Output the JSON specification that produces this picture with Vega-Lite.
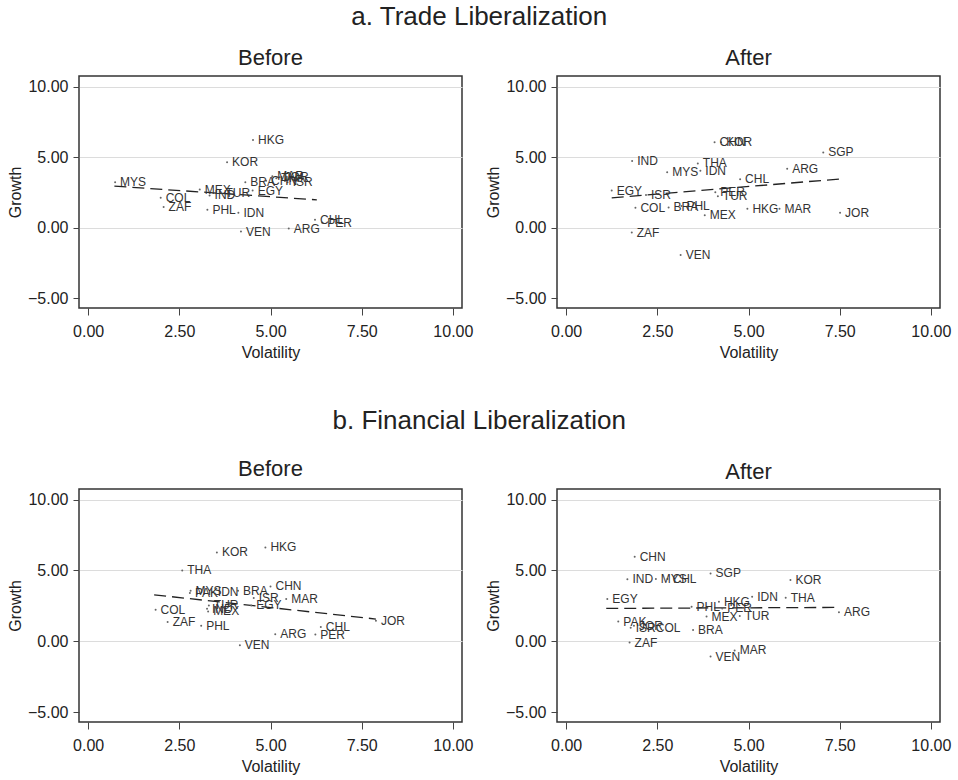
{
  "$schema": "https://vega.github.io/schema/vega-lite/v6.json",
  "padding": {"left": 6, "top": 4, "right": 5, "bottom": 2},
  "datasets": {
    "countries": [
      {"reform": "Trade", "period": "Before", "country": "HKG", "volatility": 4.52, "growth": 6.22},
      {"reform": "Trade", "period": "Before", "country": "KOR", "volatility": 3.81, "growth": 4.63},
      {"reform": "Trade", "period": "Before", "country": "MYS", "volatility": 0.74, "growth": 3.22},
      {"reform": "Trade", "period": "Before", "country": "COL", "volatility": 1.99, "growth": 2.11},
      {"reform": "Trade", "period": "Before", "country": "ZAF", "volatility": 2.07, "growth": 1.46},
      {"reform": "Trade", "period": "Before", "country": "MEX", "volatility": 3.06, "growth": 2.7},
      {"reform": "Trade", "period": "Before", "country": "IND", "volatility": 3.33, "growth": 2.28},
      {"reform": "Trade", "period": "Before", "country": "TUR", "volatility": 3.63, "growth": 2.46},
      {"reform": "Trade", "period": "Before", "country": "PHL", "volatility": 3.27, "growth": 1.27},
      {"reform": "Trade", "period": "Before", "country": "IDN", "volatility": 4.12, "growth": 1.06},
      {"reform": "Trade", "period": "Before", "country": "VEN", "volatility": 4.19, "growth": -0.28},
      {"reform": "Trade", "period": "Before", "country": "ARG", "volatility": 5.5, "growth": -0.07},
      {"reform": "Trade", "period": "Before", "country": "CHL", "volatility": 6.22, "growth": 0.56},
      {"reform": "Trade", "period": "Before", "country": "PER", "volatility": 6.42, "growth": 0.35},
      {"reform": "Trade", "period": "Before", "country": "BRA", "volatility": 4.31, "growth": 3.22},
      {"reform": "Trade", "period": "Before", "country": "EGY", "volatility": 4.51, "growth": 2.63},
      {"reform": "Trade", "period": "Before", "country": "CHN", "volatility": 4.88, "growth": 3.33},
      {"reform": "Trade", "period": "Before", "country": "MAR", "volatility": 5.05, "growth": 3.64},
      {"reform": "Trade", "period": "Before", "country": "THA", "volatility": 5.16, "growth": 3.5},
      {"reform": "Trade", "period": "Before", "country": "JOR", "volatility": 5.25, "growth": 3.57},
      {"reform": "Trade", "period": "Before", "country": "ISR", "volatility": 5.47, "growth": 3.22},
      {"reform": "Trade", "period": "After", "country": "CHN", "volatility": 4.07, "growth": 6.05},
      {"reform": "Trade", "period": "After", "country": "KOR", "volatility": 4.25, "growth": 6.05},
      {"reform": "Trade", "period": "After", "country": "SGP", "volatility": 7.05, "growth": 5.33},
      {"reform": "Trade", "period": "After", "country": "IND", "volatility": 1.81, "growth": 4.72},
      {"reform": "Trade", "period": "After", "country": "THA", "volatility": 3.61, "growth": 4.55},
      {"reform": "Trade", "period": "After", "country": "MYS", "volatility": 2.77, "growth": 3.92},
      {"reform": "Trade", "period": "After", "country": "IDN", "volatility": 3.68, "growth": 4.04},
      {"reform": "Trade", "period": "After", "country": "ARG", "volatility": 6.06, "growth": 4.18},
      {"reform": "Trade", "period": "After", "country": "CHL", "volatility": 4.77, "growth": 3.43},
      {"reform": "Trade", "period": "After", "country": "EGY", "volatility": 1.25, "growth": 2.63},
      {"reform": "Trade", "period": "After", "country": "ISR", "volatility": 2.19, "growth": 2.32},
      {"reform": "Trade", "period": "After", "country": "PER", "volatility": 4.09, "growth": 2.51},
      {"reform": "Trade", "period": "After", "country": "TUR", "volatility": 4.16, "growth": 2.23},
      {"reform": "Trade", "period": "After", "country": "COL", "volatility": 1.9, "growth": 1.41},
      {"reform": "Trade", "period": "After", "country": "BRA", "volatility": 2.81, "growth": 1.43},
      {"reform": "Trade", "period": "After", "country": "PHL", "volatility": 3.16, "growth": 1.53},
      {"reform": "Trade", "period": "After", "country": "MEX", "volatility": 3.8, "growth": 0.87},
      {"reform": "Trade", "period": "After", "country": "HKG", "volatility": 4.97, "growth": 1.34},
      {"reform": "Trade", "period": "After", "country": "MAR", "volatility": 5.85, "growth": 1.34},
      {"reform": "Trade", "period": "After", "country": "JOR", "volatility": 7.51, "growth": 1.06},
      {"reform": "Trade", "period": "After", "country": "ZAF", "volatility": 1.8, "growth": -0.35},
      {"reform": "Trade", "period": "After", "country": "VEN", "volatility": 3.14, "growth": -1.95},
      {"reform": "Financial", "period": "Before", "country": "KOR", "volatility": 3.53, "growth": 6.27},
      {"reform": "Financial", "period": "Before", "country": "HKG", "volatility": 4.86, "growth": 6.62},
      {"reform": "Financial", "period": "Before", "country": "THA", "volatility": 2.58, "growth": 5.0},
      {"reform": "Financial", "period": "Before", "country": "MYS", "volatility": 2.81, "growth": 3.57},
      {"reform": "Financial", "period": "Before", "country": "PAK", "volatility": 2.79, "growth": 3.4},
      {"reform": "Financial", "period": "Before", "country": "IDN", "volatility": 3.42, "growth": 3.47},
      {"reform": "Financial", "period": "Before", "country": "BRA", "volatility": 4.11, "growth": 3.57},
      {"reform": "Financial", "period": "Before", "country": "CHN", "volatility": 5.0, "growth": 3.87},
      {"reform": "Financial", "period": "Before", "country": "ISR", "volatility": 4.54, "growth": 3.05},
      {"reform": "Financial", "period": "Before", "country": "EGY", "volatility": 4.47, "growth": 2.53},
      {"reform": "Financial", "period": "Before", "country": "MAR", "volatility": 5.43, "growth": 2.98},
      {"reform": "Financial", "period": "Before", "country": "TUR", "volatility": 3.31, "growth": 2.53},
      {"reform": "Financial", "period": "Before", "country": "MEX", "volatility": 3.29, "growth": 2.11},
      {"reform": "Financial", "period": "Before", "country": "IND", "volatility": 3.26, "growth": 2.3},
      {"reform": "Financial", "period": "Before", "country": "COL", "volatility": 1.85, "growth": 2.23},
      {"reform": "Financial", "period": "Before", "country": "ZAF", "volatility": 2.18, "growth": 1.36},
      {"reform": "Financial", "period": "Before", "country": "PHL", "volatility": 3.1, "growth": 1.1},
      {"reform": "Financial", "period": "Before", "country": "ARG", "volatility": 5.13, "growth": 0.49},
      {"reform": "Financial", "period": "Before", "country": "CHL", "volatility": 6.38, "growth": 1.01},
      {"reform": "Financial", "period": "Before", "country": "PER", "volatility": 6.23, "growth": 0.47},
      {"reform": "Financial", "period": "Before", "country": "VEN", "volatility": 4.16, "growth": -0.28},
      {"reform": "Financial", "period": "Before", "country": "JOR", "volatility": 7.89, "growth": 1.45},
      {"reform": "Financial", "period": "After", "country": "CHN", "volatility": 1.88, "growth": 5.96},
      {"reform": "Financial", "period": "After", "country": "IND", "volatility": 1.68, "growth": 4.37},
      {"reform": "Financial", "period": "After", "country": "MYS", "volatility": 2.46, "growth": 4.39},
      {"reform": "Financial", "period": "After", "country": "CHL", "volatility": 2.78, "growth": 4.39},
      {"reform": "Financial", "period": "After", "country": "SGP", "volatility": 3.96, "growth": 4.79},
      {"reform": "Financial", "period": "After", "country": "KOR", "volatility": 6.15, "growth": 4.32},
      {"reform": "Financial", "period": "After", "country": "EGY", "volatility": 1.13, "growth": 2.98},
      {"reform": "Financial", "period": "After", "country": "IDN", "volatility": 5.1, "growth": 3.15},
      {"reform": "Financial", "period": "After", "country": "THA", "volatility": 6.02, "growth": 3.08},
      {"reform": "Financial", "period": "After", "country": "HKG", "volatility": 4.19, "growth": 2.79},
      {"reform": "Financial", "period": "After", "country": "PHL", "volatility": 3.44, "growth": 2.44},
      {"reform": "Financial", "period": "After", "country": "PER", "volatility": 4.28, "growth": 2.32},
      {"reform": "Financial", "period": "After", "country": "MEX", "volatility": 3.85, "growth": 1.74},
      {"reform": "Financial", "period": "After", "country": "TUR", "volatility": 4.76, "growth": 1.78},
      {"reform": "Financial", "period": "After", "country": "ARG", "volatility": 7.48, "growth": 2.04},
      {"reform": "Financial", "period": "After", "country": "PAK", "volatility": 1.43, "growth": 1.39},
      {"reform": "Financial", "period": "After", "country": "ISR", "volatility": 1.77, "growth": 0.96},
      {"reform": "Financial", "period": "After", "country": "JOR", "volatility": 1.86, "growth": 1.1},
      {"reform": "Financial", "period": "After", "country": "COL", "volatility": 2.32, "growth": 0.92},
      {"reform": "Financial", "period": "After", "country": "BRA", "volatility": 3.48, "growth": 0.8},
      {"reform": "Financial", "period": "After", "country": "ZAF", "volatility": 1.74, "growth": -0.09},
      {"reform": "Financial", "period": "After", "country": "VEN", "volatility": 3.96, "growth": -1.08},
      {"reform": "Financial", "period": "After", "country": "MAR", "volatility": 4.62, "growth": -0.65}
    ],
    "fit": [
      {"reform": "Trade", "period": "Before", "volatility": 0.72, "growth": 2.94},
      {"reform": "Trade", "period": "Before", "volatility": 6.27, "growth": 1.97},
      {"reform": "Trade", "period": "After", "volatility": 1.25, "growth": 2.11},
      {"reform": "Trade", "period": "After", "volatility": 7.51, "growth": 3.45},
      {"reform": "Financial", "period": "Before", "volatility": 1.81, "growth": 3.28},
      {"reform": "Financial", "period": "Before", "volatility": 7.89, "growth": 1.57},
      {"reform": "Financial", "period": "After", "volatility": 1.1, "growth": 2.32},
      {"reform": "Financial", "period": "After", "volatility": 7.48, "growth": 2.39}
    ]
  },
  "vconcat": [
    {
      "title": {"text": "a. Trade Liberalization", "anchor": "middle", "offset": 16, "fontSize": 26},
      "bounds": "flush",
      "spacing": 95,
      "hconcat": [
        {
          "title": {"text": "Before", "frame": "group", "offset": 6},
          "width": 383,
          "height": 232,
          "data": {"name": "countries"},
          "transform": [{"filter": "datum.reform == 'Trade' && datum.period == 'Before'"}],
          "encoding": {
            "x": {"field": "volatility", "type": "quantitative", "title": "Volatility", "scale": {"domain": [-0.25, 10.25], "nice": false, "zero": false}, "axis": {"values": [0, 2.5, 5, 7.5, 10], "format": ".2f"}},
            "y": {"field": "growth", "type": "quantitative", "title": "Growth", "scale": {"domain": [-5.7, 10.75], "nice": false, "zero": false}, "axis": {"values": [-5, 0, 5, 10], "format": ".2f"}}
          },
          "layer": [
            {
              "data": {"name": "fit"},
              "transform": [{"filter": "datum.reform == 'Trade' && datum.period == 'Before'"}],
              "mark": {"type": "line", "strokeDash": [12, 6], "color": "#222", "strokeWidth": 1.3}
            },
            {"mark": {"type": "circle", "size": 4, "color": "#666", "opacity": 1}},
            {
              "mark": {"type": "text", "align": "left", "baseline": "middle", "dx": 5, "fontSize": 12, "color": "#333"},
              "encoding": {"text": {"field": "country"}}
            }
          ]
        },
        {
          "title": {"text": "After", "frame": "group", "offset": 6},
          "width": 383,
          "height": 232,
          "data": {"name": "countries"},
          "transform": [{"filter": "datum.reform == 'Trade' && datum.period == 'After'"}],
          "encoding": {
            "x": {"field": "volatility", "type": "quantitative", "title": "Volatility", "scale": {"domain": [-0.25, 10.25], "nice": false, "zero": false}, "axis": {"values": [0, 2.5, 5, 7.5, 10], "format": ".2f"}},
            "y": {"field": "growth", "type": "quantitative", "title": "Growth", "scale": {"domain": [-5.7, 10.75], "nice": false, "zero": false}, "axis": {"values": [-5, 0, 5, 10], "format": ".2f"}}
          },
          "layer": [
            {
              "data": {"name": "fit"},
              "transform": [{"filter": "datum.reform == 'Trade' && datum.period == 'After'"}],
              "mark": {"type": "line", "strokeDash": [12, 6], "color": "#222", "strokeWidth": 1.3}
            },
            {"mark": {"type": "circle", "size": 4, "color": "#666", "opacity": 1}},
            {
              "mark": {"type": "text", "align": "left", "baseline": "middle", "dx": 5, "fontSize": 12, "color": "#333"},
              "encoding": {"text": {"field": "country"}}
            }
          ]
        }
      ]
    },
    {
      "title": {"text": "b. Financial Liberalization", "anchor": "middle", "offset": 23, "fontSize": 26},
      "bounds": "flush",
      "spacing": 95,
      "hconcat": [
        {
          "title": {"text": "Before", "frame": "group", "offset": 8},
          "width": 383,
          "height": 233,
          "data": {"name": "countries"},
          "transform": [{"filter": "datum.reform == 'Financial' && datum.period == 'Before'"}],
          "encoding": {
            "x": {"field": "volatility", "type": "quantitative", "title": "Volatility", "scale": {"domain": [-0.25, 10.25], "nice": false, "zero": false}, "axis": {"values": [0, 2.5, 5, 7.5, 10], "format": ".2f"}},
            "y": {"field": "growth", "type": "quantitative", "title": "Growth", "scale": {"domain": [-5.7, 10.75], "nice": false, "zero": false}, "axis": {"values": [-5, 0, 5, 10], "format": ".2f"}}
          },
          "layer": [
            {
              "data": {"name": "fit"},
              "transform": [{"filter": "datum.reform == 'Financial' && datum.period == 'Before'"}],
              "mark": {"type": "line", "strokeDash": [12, 6], "color": "#222", "strokeWidth": 1.3}
            },
            {"mark": {"type": "circle", "size": 4, "color": "#666", "opacity": 1}},
            {
              "mark": {"type": "text", "align": "left", "baseline": "middle", "dx": 5, "fontSize": 12, "color": "#333"},
              "encoding": {"text": {"field": "country"}}
            }
          ]
        },
        {
          "title": {"text": "After", "frame": "group", "offset": 5},
          "width": 383,
          "height": 233,
          "data": {"name": "countries"},
          "transform": [{"filter": "datum.reform == 'Financial' && datum.period == 'After'"}],
          "encoding": {
            "x": {"field": "volatility", "type": "quantitative", "title": "Volatility", "scale": {"domain": [-0.25, 10.25], "nice": false, "zero": false}, "axis": {"values": [0, 2.5, 5, 7.5, 10], "format": ".2f"}},
            "y": {"field": "growth", "type": "quantitative", "title": "Growth", "scale": {"domain": [-5.7, 10.75], "nice": false, "zero": false}, "axis": {"values": [-5, 0, 5, 10], "format": ".2f"}}
          },
          "layer": [
            {
              "data": {"name": "fit"},
              "transform": [{"filter": "datum.reform == 'Financial' && datum.period == 'After'"}],
              "mark": {"type": "line", "strokeDash": [12, 6], "color": "#222", "strokeWidth": 1.3}
            },
            {"mark": {"type": "circle", "size": 4, "color": "#666", "opacity": 1}},
            {
              "mark": {"type": "text", "align": "left", "baseline": "middle", "dx": 5, "fontSize": 12, "color": "#333"},
              "encoding": {"text": {"field": "country"}}
            }
          ]
        }
      ]
    }
  ],
  "spacing": 47,
  "config": {
    "font": "Liberation Sans",
    "view": {"stroke": "#333", "strokeWidth": 1.5},
    "axis": {
      "labelFontSize": 16,
      "titleFontSize": 16,
      "labelColor": "#222",
      "titleColor": "#222",
      "titleFontWeight": "normal",
      "tickColor": "#444",
      "domain": false,
      "grid": false
    },
    "axisX": {"tickSize": 7, "labelPadding": 8, "titlePadding": 5},
    "axisY": {
      "tickSize": 6,
      "labelPadding": 5,
      "titlePadding": 4,
      "grid": true,
      "gridColor": {"condition": {"test": "datum.value < -1", "value": "transparent"}, "value": "#dcdcdc"}
    },
    "title": {"fontSize": 22, "fontWeight": "normal", "color": "#222"}
  }
}
